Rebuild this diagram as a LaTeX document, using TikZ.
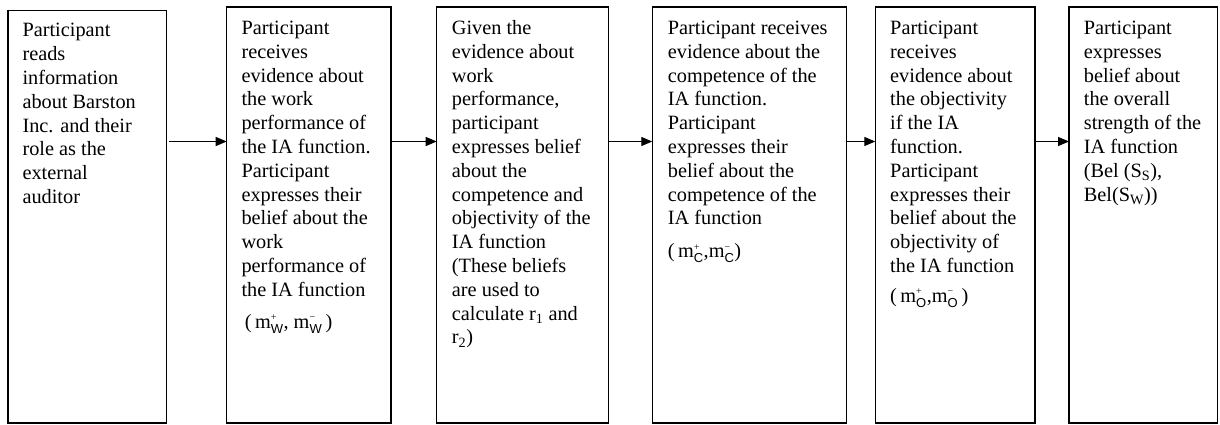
\documentclass[tikz,border=0pt]{standalone}
\usepackage{fontspec}
\setmainfont{Liberation Serif}
\setsansfont{Liberation Sans}
\usetikzlibrary{arrows.meta}
\newcommand{\mfrm}[2]{m$^{\mbox{\fontsize{10}{10}\selectfont #1}}_{\mbox{\fontsize{13}{13}\selectfont\sffamily #2}}$}
\tikzset{
  box/.style={draw=black, line width=1.2pt, inner sep=0pt, outer sep=0pt, anchor=north west},
  txt/.style={anchor=north west, inner sep=0pt, align=left, text=black,
    font=\fontsize{20.3}{23.8}\selectfont},
  arr/.style={line width=1.2pt, -{Triangle[length=11pt,width=9pt]}}
}
\begin{document}
\begin{tikzpicture}[x=1pt,y=-1pt]
\useasboundingbox (0,0) rectangle (1220,424);
% boxes
\node[box, minimum width=158.3pt, minimum height=412.7pt] (b1) at (8,10.3) {};
\node[box, minimum width=164.3pt, minimum height=416pt] (b2) at (226.7,7) {};
\node[box, minimum width=171.6pt, minimum height=416pt] (b3) at (436.7,7) {};
\node[box, minimum width=194.4pt, minimum height=416pt] (b4) at (652.3,7) {};
\node[box, minimum width=159.7pt, minimum height=416pt] (b5) at (875.3,7) {};
\node[box, minimum width=148.7pt, minimum height=416pt] (b6) at (1069,7) {};
% texts
\node[txt] (t1) at (22.3,22.7) {\rule{0pt}{14pt}Participant\\reads\\information\\about Barston\\Inc. and their\\role as the\\external\\auditor};
\node[txt] (t2) at (241.3,20.3) {\rule{0pt}{14pt}Participant\\receives\\evidence about\\the work\\performance of\\the IA function.\\Participant\\expresses their\\belief about the\\work\\performance of\\the IA function\\[8pt]\,(\,\mfrm{+}{W}, \mfrm{−}{W}\,)};
\node[txt] (t3) at (451.7,20.3) {\rule{0pt}{14pt}Given the\\evidence about\\work\\performance,\\participant\\expresses belief\\about the\\competence and\\objectivity of the\\IA function\\(These beliefs\\are used to\\calculate r\textsubscript{1} and\\r\textsubscript{2})};
\node[txt] (t4) at (667.7,20.3) {\rule{0pt}{14pt}Participant receives\\evidence about the\\competence of the\\IA function.\\Participant\\expresses their\\belief about the\\competence of the\\IA function\\[9pt](\,\mfrm{+}{C},\mfrm{−}{C})};
\node[txt] (t5) at (890,20.3) {\rule{0pt}{14pt}Participant\\receives\\evidence about\\the objectivity\\if the IA\\function.\\Participant\\expresses their\\belief about the\\objectivity of\\the IA function\\[6pt](\,\mfrm{+}{O},\mfrm{−}{O}\,)};
\node[txt] (t6) at (1083.7,20.3) {\rule{0pt}{14pt}Participant\\expresses\\belief about\\the overall\\strength of the\\IA function\\(Bel (S\textsubscript{S}),\\Bel(S\textsubscript{W}))};
% arrows
\coordinate (ay) at (0,141.5);
\draw[arr] ([xshift=3pt]b1.east |- ay) -- (b2.west |- ay);
\draw[arr] (b2.east |- ay) -- (b3.west |- ay);
\draw[arr] (b3.east |- ay) -- (b4.west |- ay);
\draw[arr] (b4.east |- ay) -- (b5.west |- ay);
\draw[arr] (b5.east |- ay) -- (b6.west |- ay);
\end{tikzpicture}
\end{document}
